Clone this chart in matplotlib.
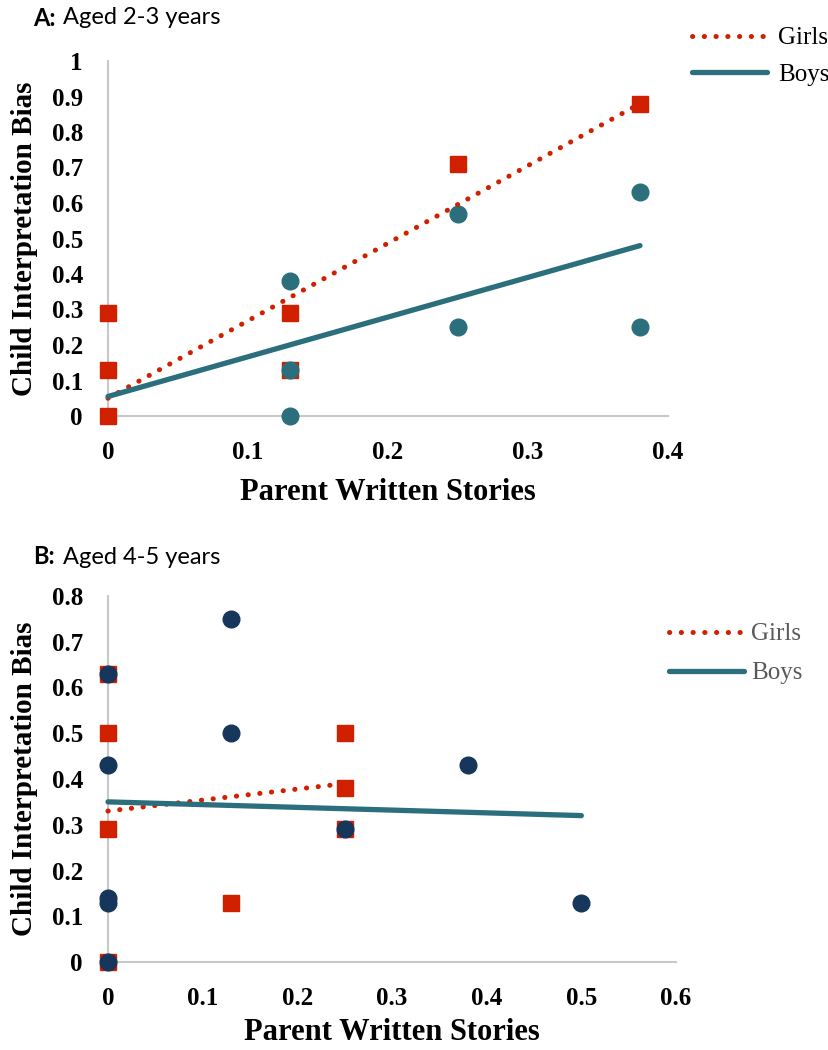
import matplotlib
matplotlib.use("Agg")
import matplotlib.pyplot as plt
from matplotlib.lines import Line2D

W, H = 829, 1050
RED = "#D02000"
TEAL = "#2B6E7C"
NAVY = "#17365C"
GRID = "#C8C8C8"
SERIF = "Liberation Serif"
SANS = "Lato"

# ---------- Data ----------
# Panel A: aged 2-3 years
a_girls_x = [0, 0, 0, 0.13, 0.13, 0.25, 0.38]
a_girls_y = [0.29, 0.13, 0.0, 0.29, 0.13, 0.71, 0.88]
a_boys_x = [0.13, 0.13, 0.13, 0.25, 0.25, 0.38, 0.38]
a_boys_y = [0.38, 0.13, 0.0, 0.57, 0.25, 0.63, 0.25]
a_girls_trend_x = [0, 0.38]
a_girls_trend_y = [0.05, 0.88]
a_boys_trend_x = [0, 0.38]
a_boys_trend_y = [0.055, 0.48]
a_xticks = [0, 0.1, 0.2, 0.3, 0.4]
a_xticklabels = ["0", "0.1", "0.2", "0.3", "0.4"]
a_yticks = [0, 0.1, 0.2, 0.3, 0.4, 0.5, 0.6, 0.7, 0.8, 0.9, 1.0]
a_yticklabels = ["0", "0.1", "0.2", "0.3", "0.4", "0.5", "0.6", "0.7", "0.8", "0.9", "1"]

# Panel B: aged 4-5 years
b_girls_x = [0, 0, 0, 0, 0.13, 0.25, 0.25, 0.25]
b_girls_y = [0.63, 0.5, 0.29, 0.0, 0.13, 0.5, 0.38, 0.29]
b_boys_x = [0, 0, 0, 0, 0, 0.13, 0.13, 0.25, 0.38, 0.5]
b_boys_y = [0.63, 0.43, 0.14, 0.13, 0.0, 0.75, 0.5, 0.29, 0.43, 0.13]
b_girls_trend_x = [0, 0.25]
b_girls_trend_y = [0.33, 0.39]
b_boys_trend_x = [0, 0.5]
b_boys_trend_y = [0.35, 0.32]
b_xticks = [0, 0.1, 0.2, 0.3, 0.4, 0.5, 0.6]
b_xticklabels = ["0", "0.1", "0.2", "0.3", "0.4", "0.5", "0.6"]
b_yticks = [0, 0.1, 0.2, 0.3, 0.4, 0.5, 0.6, 0.7, 0.8]
b_yticklabels = ["0", "0.1", "0.2", "0.3", "0.4", "0.5", "0.6", "0.7", "0.8"]

fig = plt.figure(figsize=(W / 100, H / 100), dpi=100)


def px_axes(x0, x1, y_top, y_bot):
    return fig.add_axes([x0 / W, 1 - y_bot / H, (x1 - x0) / W, (y_bot - y_top) / H])


def style(ax, xlim, ylim, xt, xtl, yt, ytl):
    ax.set_xlim(*xlim)
    ax.set_ylim(*ylim)
    for s in ["top", "right"]:
        ax.spines[s].set_visible(False)
    for s in ["left", "bottom"]:
        ax.spines[s].set_color(GRID)
        ax.spines[s].set_linewidth(1.5)
    ax.set_xticks(xt)
    ax.set_xticklabels(xtl)
    ax.set_yticks(yt)
    ax.set_yticklabels(ytl)
    ax.tick_params(axis="y", length=0, pad=18)
    ax.tick_params(axis="x", length=0, pad=18)
    for lab in ax.get_xticklabels() + ax.get_yticklabels():
        lab.set_fontfamily(SERIF)
        lab.set_fontweight("bold")
        lab.set_fontsize(18)
        lab.set_color("black")
    ax.patch.set_alpha(0)


def draw(ax, gx, gy, bx, by, gtx, gty, btx, bty, boys_color):
    ax.plot(gx, gy, linestyle="none", marker="s", markersize=12, color=RED,
            markeredgecolor=RED, clip_on=False, zorder=3)
    ax.plot(bx, by, linestyle="none", marker="o", markersize=12, color=boys_color,
            markeredgecolor=boys_color, clip_on=False, zorder=4)
    ax.plot(gtx, gty, linestyle=(0, (0.05, 2.3)), linewidth=3.6, color=RED,
            dash_capstyle="round", clip_on=False, zorder=5)
    ax.plot(btx, bty, linestyle="-", linewidth=3.8, color=TEAL,
            solid_capstyle="round", clip_on=False, zorder=5)


def labels(ax, xpad):
    ax.set_xlabel("Parent Written Stories", fontfamily=SERIF, fontweight="bold",
                  fontsize=22, labelpad=xpad)
    ax.set_ylabel("Child Interpretation Bias", fontfamily=SERIF, fontweight="bold",
                  fontsize=21, labelpad=10)


handles = [
    Line2D([], [], linestyle=(0, (0.05, 2.3)), linewidth=3.6, color=RED, dash_capstyle="round"),
    Line2D([], [], linestyle="-", linewidth=3.8, color=TEAL, solid_capstyle="round"),
]

# ---------- Panel A ----------
axA = px_axes(108, 668, 61, 416)
style(axA, (0, 0.4), (0, 1), a_xticks, a_xticklabels, a_yticks, a_yticklabels)
draw(axA, a_girls_x, a_girls_y, a_boys_x, a_boys_y,
     a_girls_trend_x, a_girls_trend_y, a_boys_trend_x, a_boys_trend_y, TEAL)
labels(axA, 10)
fig.text(33 / W, 1 - 18 / H, "A:", fontfamily=SANS, fontweight="bold", fontsize=17,
         va="center", ha="left")
fig.text(63 / W, 1 - 18 / H, "Aged 2-3 years", fontfamily=SANS, fontsize=17,
         va="center", ha="left")
fig.legend(handles, ["Girls", "Boys"], loc="upper left",
           bbox_to_anchor=(692 / W, 1 - 27 / H), frameon=False,
           borderpad=0, borderaxespad=0,
           handlelength=3.0, handletextpad=0.45, labelspacing=0.55,
           prop={"family": SERIF, "size": 18})

# ---------- Panel B ----------
axB = px_axes(108, 676, 596, 962)
style(axB, (0, 0.6), (0, 0.8), b_xticks, b_xticklabels, b_yticks, b_yticklabels)
draw(axB, b_girls_x, b_girls_y, b_boys_x, b_boys_y,
     b_girls_trend_x, b_girls_trend_y, b_boys_trend_x, b_boys_trend_y, NAVY)
labels(axB, 6)
fig.text(33 / W, 1 - 557 / H, "B:", fontfamily=SANS, fontweight="bold", fontsize=17,
         va="center", ha="left")
fig.text(63 / W, 1 - 557 / H, "Aged 4-5 years", fontfamily=SANS, fontsize=17,
         va="center", ha="left")
legB = fig.legend(handles, ["Girls", "Boys"], loc="upper left",
                  bbox_to_anchor=(669 / W, 1 - 623 / H), frameon=False,
                  borderpad=0, borderaxespad=0,
                  handlelength=3.0, handletextpad=0.3, labelspacing=0.65,
                  prop={"family": SERIF, "size": 18})
for t in legB.get_texts():
    t.set_color("#595959")

fig.savefig("out.png", dpi=100)
